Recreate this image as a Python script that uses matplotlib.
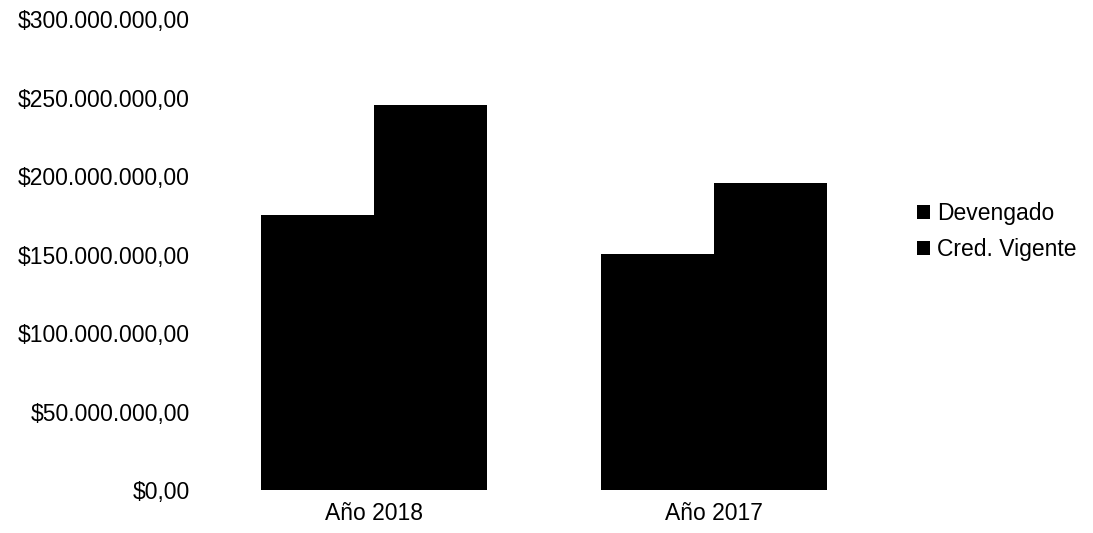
import matplotlib.pyplot as plt
import matplotlib.ticker as mticker
import numpy as np

plt.rcParams['font.family'] = ['Liberation Sans', 'DejaVu Sans']

categories = ["Año 2018", "Año 2017"]
devengado = [175_300_000, 150_300_000]
cred_vigente = [245_400_000, 195_500_000]
series_names = ["Devengado", "Cred. Vigente"]


def money_fmt(v, pos):
    # formato argentino: punto de miles, coma decimal
    s = f"{v:,.2f}".replace(",", "X").replace(".", ",").replace("X", ".")
    return "$" + s


fig = plt.figure(figsize=(10.93, 5.33), dpi=100)
ax = fig.add_axes([0.1866, 0.0807, 0.622, 0.883])

x = np.arange(len(categories))
w = 0.333
ax.bar(x - w / 2, devengado, width=w, color="black", label=series_names[0])
ax.bar(x + w / 2, cred_vigente, width=w, color="black", label=series_names[1])

ax.set_xlim(-0.5, 1.5)
ax.set_ylim(0, 300_000_000)
ax.set_yticks(np.arange(0, 300_000_001, 50_000_000))
ax.yaxis.set_major_formatter(mticker.FuncFormatter(money_fmt))
ax.set_xticks(x)
ax.set_xticklabels(categories)

for s in ax.spines.values():
    s.set_visible(False)
ax.tick_params(axis="both", length=0, labelsize=16.5)
ax.tick_params(axis="y", pad=10)
ax.tick_params(axis="x", pad=9)

leg = ax.legend(loc="center left", bbox_to_anchor=(1.0485, 0.549), frameon=False,
                fontsize=16.5, handlelength=0.57, handleheight=0.57,
                handletextpad=0.3, labelspacing=0.6,
                borderpad=0, borderaxespad=0)

fig.savefig("out.png", dpi=100)
